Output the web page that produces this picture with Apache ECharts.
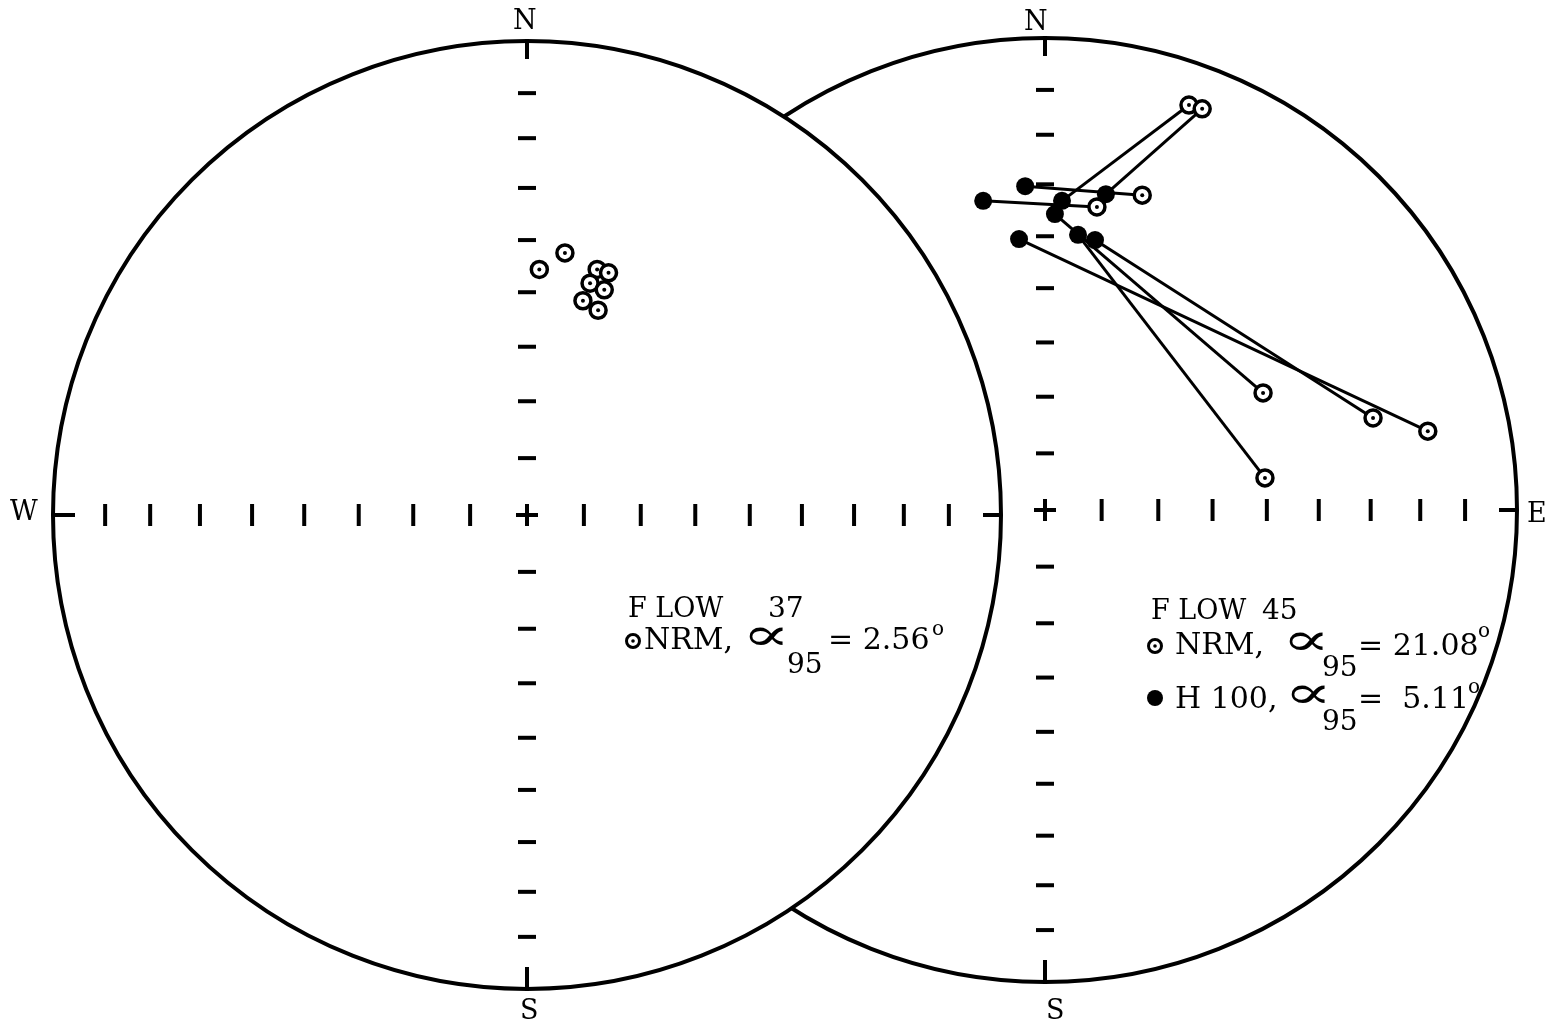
<!DOCTYPE html>
<html>
<head>
<meta charset="utf-8">
<style>
  html, body { margin: 0; padding: 0; background: #fff; }
  #main { width: 1558px; height: 1032px; }
</style>
<script src="https://cdn.jsdelivr.net/npm/echarts@6/dist/echarts.min.js"></script>
</head>
<body>
<div id="main"></div>
<script>
// tick marks on the N-S and E-W axes (fraction of net radius, equal-area spacing)
var ticks = [0.12, 0.24, 0.355, 0.47, 0.58, 0.69, 0.795, 0.89];

// flow 37 - NRM directions, projected [x, y]
var flow37Nrm = [
  [0.026, 0.518], [0.080, 0.553], [0.148, 0.518], [0.172, 0.511],
  [0.133, 0.489], [0.163, 0.475], [0.118, 0.452], [0.150, 0.432]
];

// flow 45 - NRM and H 100 directions, same sample order (pairs are joined)
var flow45Nrm = [
  [0.305, 0.858], [0.333, 0.850], [0.206, 0.667], [0.110, 0.642],
  [0.462, 0.248], [0.466, 0.068], [0.695, 0.195], [0.811, 0.167]
];
var flow45H100 = [
  [0.036, 0.655], [0.129, 0.669], [-0.042, 0.686], [-0.131, 0.655],
  [0.021, 0.627], [0.070, 0.583], [0.106, 0.572], [-0.055, 0.574]
];

var font = '"DejaVu Serif", "Liberation Serif", serif';
var plus = 'path://M9,0H13V9H22V13H13V22H9V13H0V9H9Z';

function netCircle(gi, fill, z) {
  return {
    type: 'custom',
    xAxisIndex: gi,
    yAxisIndex: gi,
    z: z,
    silent: true,
    clip: false,
    data: [[0, 0, 1]],
    renderItem: function(params, api) {
      var c = api.coord([api.value(0), api.value(1)]);
      var r = api.size([api.value(2), 0])[0];
      return {
        type: 'circle',
        shape: { cx: c[0], cy: c[1], r: r },
        style: { fill: fill, stroke: '#000', lineWidth: 4 }
      };
    }
  };
}

function netTicks(gi, z) {
  var hor = [], ver = [];
  ticks.forEach(function(t) {
    hor.push([t, 0], [-t, 0]);
    ver.push([0, t], [0, -t]);
  });
  var base = {
    type: 'scatter', xAxisIndex: gi, yAxisIndex: gi, z: z,
    silent: true, clip: false, animation: false,
    itemStyle: { color: '#000', opacity: 1 }
  };
  return [
    Object.assign({}, base, { symbol: 'rect', symbolSize: [4, 22], data: hor }),
    Object.assign({}, base, { symbol: 'rect', symbolSize: [18, 4], data: ver }),
    Object.assign({}, base, { symbol: plus, symbolSize: 22, data: [[0, 0]] }),
    // short stubs where the axes meet the primitive circle
    Object.assign({}, base, { symbol: 'rect', data: [
      { value: [-1, 0], symbolSize: [22, 4], symbolOffset: [11, 0] },
      { value: [1, 0], symbolSize: [18, 4], symbolOffset: [-9, 0] },
      { value: [0, 1], symbolSize: [4, 18], symbolOffset: [0, 9] },
      { value: [0, -1], symbolSize: [4, 22], symbolOffset: [0, -11] }
    ] })
  ];
}

function openDots(gi, data, z) {
  return [{
    type: 'scatter', xAxisIndex: gi, yAxisIndex: gi, z: z, silent: true,
    symbol: 'circle', symbolSize: 16, data: data,
    itemStyle: { color: '#fff', borderColor: '#000', borderWidth: 3.5, opacity: 1 }
  }, {
    type: 'scatter', xAxisIndex: gi, yAxisIndex: gi, z: z, silent: true,
    symbol: 'circle', symbolSize: 4, data: data,
    itemStyle: { color: '#000', opacity: 1 }
  }];
}

function txt(x, y, s, size, sx) {
  return {
    type: 'text', x: x, y: y, z: 100, silent: true,
    scaleX: sx || 1,
    style: {
      text: s, font: size + 'px ' + font, fill: '#000',
      align: 'left', verticalAlign: 'middle',
      textAlign: 'left', textVerticalAlign: 'middle'
    }
  };
}
function ring(cx, cy) {
  return [
    { type: 'circle', z: 100, shape: { cx: cx, cy: cy, r: 6.5 }, style: { fill: '#fff', stroke: '#000', lineWidth: 3 } },
    { type: 'circle', z: 100, shape: { cx: cx, cy: cy, r: 1.8 }, style: { fill: '#000' } }
  ];
}

var pairLines = flow45Nrm.map(function(p, i) {
  return { coords: [p, flow45H100[i]] };
});

var axisOff = { type: 'value', min: -1, max: 1, show: false };

var myChart = echarts.init(document.getElementById('main'));
myChart.setOption({
  animation: false,
  backgroundColor: '#fff',
  grid: [
    { left: 53, top: 41, width: 948, height: 948 },
    { left: 573, top: 38, width: 944, height: 944 }
  ],
  xAxis: [Object.assign({ gridIndex: 0 }, axisOff), Object.assign({ gridIndex: 1 }, axisOff)],
  yAxis: [Object.assign({ gridIndex: 0 }, axisOff), Object.assign({ gridIndex: 1 }, axisOff)],
  series: [].concat(
    // flow 45 net sits behind
    [netCircle(1, '#fff', 1)],
    netTicks(1, 2),
    [{
      type: 'lines', coordinateSystem: 'cartesian2d', xAxisIndex: 1, yAxisIndex: 1,
      z: 2, silent: true, data: pairLines,
      lineStyle: { color: '#000', width: 3, opacity: 1, curveness: 0 }
    }],
    openDots(1, flow45Nrm, 3),
    [{
      type: 'scatter', xAxisIndex: 1, yAxisIndex: 1, z: 3, silent: true,
      symbol: 'circle', symbolSize: 18, data: flow45H100,
      itemStyle: { color: '#000', opacity: 1 }
    }],
    // flow 37 net drawn on top, white filled
    [netCircle(0, '#fff', 4)],
    netTicks(0, 5),
    openDots(0, flow37Nrm, 6)
  ),
  graphic: [].concat(
    [
      txt(513, 22, 'N', 27), txt(1024, 23, 'N', 27),
      txt(520, 1012, 'S', 27), txt(1046, 1012, 'S', 27),
      txt(10, 513, 'W', 27), txt(1527, 515, 'E', 27),

      txt(628, 610, 'F LOW', 27), txt(768, 610, '37', 28),
      txt(644, 641, 'NRM,', 30), txt(742, 638, '\u221D', 46, 1.55),
      txt(787, 666, '95', 28), txt(828, 641, '= 2.56', 30), txt(932, 630, 'o', 20),

      txt(1151, 612, 'F LOW', 27), txt(1262, 612, '45', 28),
      txt(1175, 646, 'NRM,', 30), txt(1282, 643, '\u221D', 46, 1.55),
      txt(1322, 669, '95', 28), txt(1358, 647, '= 21.08', 30), txt(1478, 632, 'o', 20),
      txt(1175, 700, 'H 100,', 30), txt(1284, 696, '\u221D', 46, 1.55),
      txt(1322, 723, '95', 28), txt(1358, 700, '=  5.11', 30), txt(1468, 688, 'o', 20),
      { type: 'circle', z: 100, shape: { cx: 1155, cy: 698, r: 8 }, style: { fill: '#000' } }
    ],
    ring(633, 641),
    ring(1155, 646)
  )
});
</script>
</body>
</html>
